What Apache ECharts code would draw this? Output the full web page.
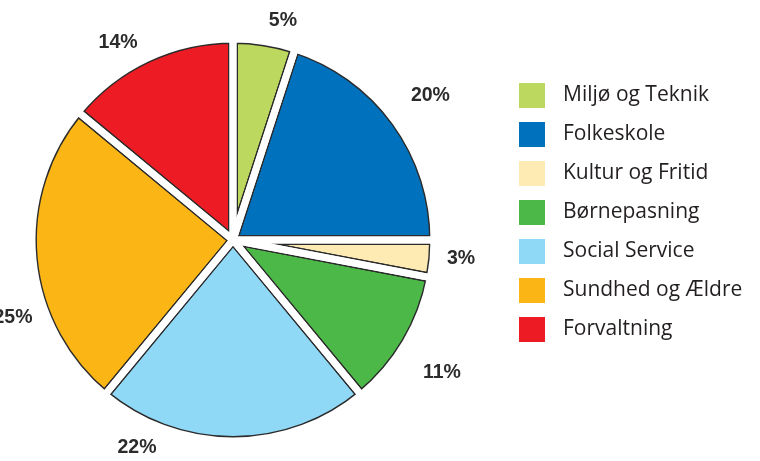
<!DOCTYPE html>
<html>
<head>
<meta charset="utf-8">
<script src="https://cdn.jsdelivr.net/npm/echarts@6/dist/echarts.min.js"></script>
<style>
  html, body { margin: 0; padding: 0; background: #fff; }
  #chart { width: 760px; height: 461px; }
</style>
</head>
<body>
<div id="chart"></div>
<script>
// budget shares (%), clockwise from 12 o'clock
const categories = ['Miljø og Teknik', 'Folkeskole', 'Kultur og Fritid', 'Børnepasning', 'Social Service', 'Sundhed og Ældre', 'Forvaltning'];
const shares = [5, 20, 3, 11, 22, 25, 14];
const colors = ['#bdd85e', '#0071bc', '#feebb4', '#4cb848', '#8fd8f6', '#fbb615', '#ed1c24'];

// nudges for the percentage labels, by slice
const labelShift = [[15, 1], [17, -13], [6, -2], [17, 19], [-96, -15], [2, 57], [-20, 4]];

const CX = 233, CY = 240, R = 201;
const GAP = 3.5;      // half width of the white gap between slices
const LINE = 1.4;     // dark outline width

const chart = echarts.init(document.getElementById('chart'));

const pieData = categories.map((c, i) => ({ name: c, value: shares[i] }));
const base = {
  type: 'pie',
  center: [CX, CY],
  radius: R,
  startAngle: 90,
  clockwise: true,
  silent: true,
  animation: false,
  avoidLabelOverlap: false,
  emphasis: { disabled: true },
  label: { show: false },
  labelLine: { show: false },
  data: pieData
};

let options = {
  backgroundColor: '#fff',
  legend: {
    orient: 'vertical',
    left: 519,
    top: 83,
    padding: 0,
    itemWidth: 26,
    itemHeight: 25,
    itemGap: 14,
    icon: 'rect',
    selectedMode: false,
    data: categories,
    textStyle: {
      fontFamily: 'Open Sans',
      fontSize: 21,
      color: '#231f20',
      padding: [6, 0, 0, 13]
    }
  },
  series: [
    // coloured slices
    Object.assign({}, base, {
      name: 'fill',
      z: 1,
      itemStyle: {
        color: (p) => colors[p.dataIndex],
        borderWidth: 0
      }
    }),
    // dark outline band
    Object.assign({}, base, {
      name: 'outline',
      z: 2,
      legendHoverLink: false,
      itemStyle: {
        color: 'rgba(0,0,0,0)',
        borderColor: '#2b2b2b',
        borderWidth: 2 * (GAP + LINE),
        borderJoin: 'round'
      }
    }),
    // white ring hiding outline outside the pie
    {
      type: 'pie',
      name: 'ring',
      z: 3,
      center: [CX, CY],
      radius: [R, R + 12],
      silent: true,
      animation: false,
      emphasis: { disabled: true },
      label: { show: false },
      labelLine: { show: false },
      itemStyle: { color: '#fff', borderWidth: 0 },
      data: [{ name: '_ring', value: 1 }]
    },
    // white gaps + labels
    Object.assign({}, base, {
      name: 'gap',
      z: 4,
      itemStyle: {
        color: 'rgba(0,0,0,0)',
        borderColor: '#fff',
        borderWidth: 2 * GAP,
        borderJoin: 'round'
      },
      label: {
        show: true,
        position: 'outside',
        distanceToLabelLine: 0,
        formatter: '{c}%',
        fontFamily: 'Liberation Sans',
        fontWeight: 'bold',
        fontSize: 19.5,
        color: '#2b2b2b'
      },
      labelLine: { show: false, length: 22, length2: 0 },
      labelLayout: (p) => ({
        align: 'center',
        verticalAlign: 'middle',
        dx: labelShift[p.dataIndex][0],
        dy: labelShift[p.dataIndex][1]
      })
    })
  ]
};
chart.setOption(options);
</script>
</body>
</html>
